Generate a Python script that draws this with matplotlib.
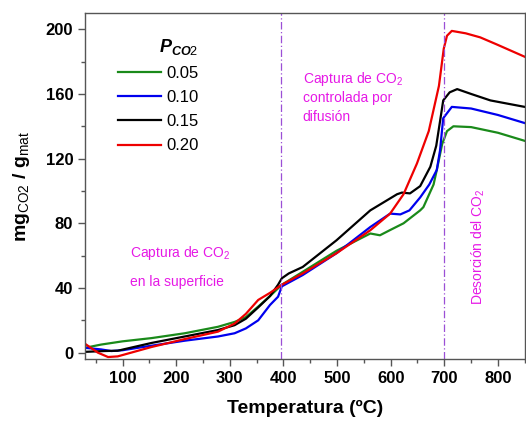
import matplotlib
matplotlib.use("Agg")
import matplotlib.pyplot as plt
from matplotlib.ticker import MultipleLocator

plt.rcParams['font.family'] = ['Liberation Sans', 'DejaVu Sans']
plt.rcParams['mathtext.fontset'] = 'custom'
plt.rcParams['mathtext.rm'] = 'Liberation Sans'
plt.rcParams['mathtext.it'] = 'Liberation Sans:italic:bold'
plt.rcParams['mathtext.bf'] = 'Liberation Sans:bold'

# ---- data ----
labels = ['0.05', '0.10', '0.15', '0.20']
colors = ['#1a8a1a', '#0000ee', '#000000', '#ee0000']

x_005 = [30, 60, 100, 154, 216, 278, 309, 330, 353, 375, 397, 436, 499, 562, 580, 600, 624, 655, 661, 680, 686, 696, 705, 717, 750, 800, 850]
y_005 = [3, 5, 7, 9, 12, 16, 19, 22, 28.5, 35, 42, 50, 63, 73.7, 72.6, 76, 80, 88, 90, 104, 113, 129, 137, 140, 139.5, 136, 131]

x_010 = [30, 60, 79, 100, 154, 216, 278, 309, 330, 353, 375, 390, 397, 436, 499, 562, 599, 618, 635, 655, 672, 686, 692, 698, 714, 750, 800, 850]
y_010 = [3, 2, 1, 1.5, 4.3, 7.4, 10, 12, 15, 20, 29.5, 34.6, 41, 48, 61.5, 77.7, 86, 85.5, 88, 96, 104, 113, 125, 145, 152, 151, 147, 142]

x_015 = [30, 66, 91, 154, 216, 278, 309, 330, 353, 375, 390, 397, 410, 436, 499, 562, 612, 621, 636, 655, 674, 685, 692, 698, 710, 724, 750, 786, 850]
y_015 = [0.5, 1, 1.2, 6, 10, 14, 17, 21, 28, 35, 42, 46, 49, 53, 69.5, 88, 98, 99, 98.5, 103, 115, 128, 143, 156, 161, 163, 160, 156, 152]

x_020 = [30, 54, 73, 91, 154, 216, 278, 309, 330, 353, 375, 397, 436, 499, 562, 599, 624, 649, 671, 690, 699, 705, 714, 740, 767, 798, 850]
y_020 = [5.5, 0, -2.7, -2.3, 3.5, 8.4, 13, 18, 24, 32.6, 37, 42, 49, 61.5, 75.7, 86, 98, 117, 137, 165, 188, 196, 199, 197.5, 195, 190.6, 183]

series_x = [x_005, x_010, x_015, x_020]
series_y = [y_005, y_010, y_015, y_020]

vlines_x = [395, 700]
xticks = [100, 200, 300, 400, 500, 600, 700, 800]
yticks = [0, 40, 80, 120, 160, 200]

# ---- figure ----
fig = plt.figure(figsize=(5.26, 4.23), dpi=100)
ax = fig.add_axes([0.1616, 0.151, 0.836, 0.818])

for xs, ys, c, lab in zip(series_x, series_y, colors, labels):
    ax.plot(xs, ys, color=c, lw=1.6, label=lab, solid_joinstyle='round')

for vx in vlines_x:
    ax.axvline(vx, color='#9b4fd6', lw=0.9, ls=(0, (6, 2, 1, 2)))

ax.set_xlim(30, 850)
ax.set_ylim(-4, 210)
ax.set_xticks(xticks)
ax.set_yticks(yticks)
ax.xaxis.set_minor_locator(MultipleLocator(50))
ax.yaxis.set_minor_locator(MultipleLocator(20))
ax.tick_params(which='both', direction='out', top=False, right=False, color='#555555')
ax.tick_params(which='major', length=5, width=1, labelsize=12)
ax.tick_params(which='minor', length=3, width=1)
for lbl in ax.get_xticklabels() + ax.get_yticklabels():
    lbl.set_fontweight('bold')
for sp in ax.spines.values():
    sp.set_color('#555555')
    sp.set_linewidth(1)

ax.set_xlabel('Temperatura (ºC)', fontsize=14, fontweight='bold', labelpad=10)
ax.set_ylabel(r'mg$_{\mathrm{CO2}}$ / g$_{\mathrm{mat}}$', fontsize=14, fontweight='bold', labelpad=10)

leg = ax.legend(title=r'$P_{CO2}$', loc='upper left', bbox_to_anchor=(0.04, 0.975),
                frameon=False, fontsize=12, title_fontsize=13, handlelength=2.6,
                handletextpad=0.3, labelspacing=0.55, alignment='right')

mag = '#e619e6'
ax.text(113, 59, r'Captura de CO$_{\mathrm{2}}$', color=mag, fontsize=10)
ax.text(113, 41.5, 'en la superficie', color=mag, fontsize=10)
ax.text(436, 167, r'Captura de CO$_{\mathrm{2}}$', color=mag, fontsize=10)
ax.text(436, 155, 'controlada por', color=mag, fontsize=10)
ax.text(436, 143.5, 'difusión', color=mag, fontsize=10)
ax.text(764, 29.5, r'Desorción del CO$_{\mathrm{2}}$', color=mag, fontsize=10,
        rotation=90, ha='center', va='bottom')

fig.savefig('out.png', dpi=100)
